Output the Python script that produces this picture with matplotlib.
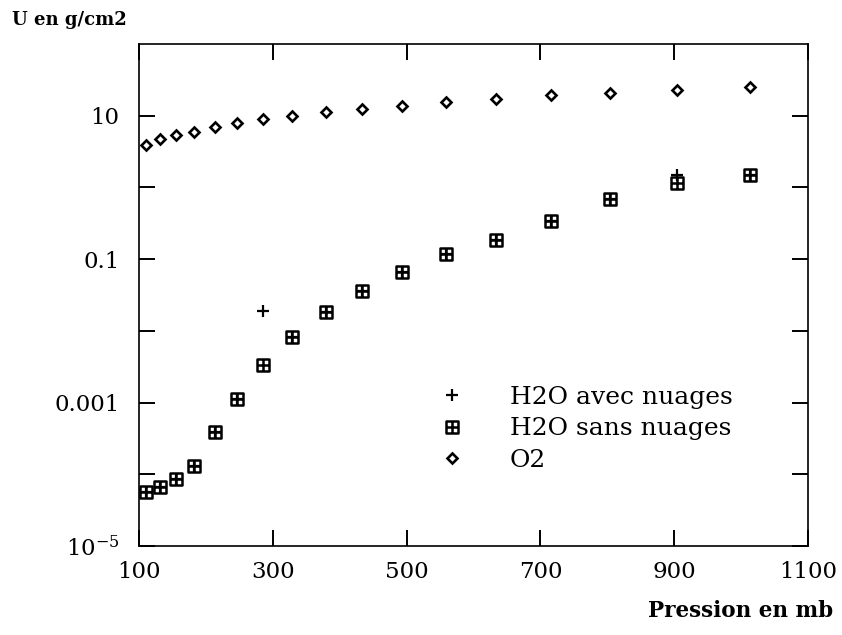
import matplotlib
matplotlib.use("Agg")
import matplotlib.pyplot as plt
from matplotlib.path import Path

# Données
pression = [110, 131, 156, 182, 213, 247, 286, 329, 379, 433, 493, 559, 633, 716, 804, 904, 1013]
u_o2 = [3.9, 4.7, 5.4, 6.0, 7.0, 7.9, 9.0, 9.9, 11.3, 12.4, 13.6, 15.4, 16.9, 19.3, 20.8, 22.9, 25.1]
u_h2o_sans = [5.6e-5, 6.7e-5, 8.6e-5, 1.30e-4, 3.85e-4, 1.11e-3, 3.34e-3, 8.3e-3, 0.0183,
              0.0363, 0.0655, 0.118, 0.183, 0.34, 0.68, 1.14, 1.51]
u_h2o_avec = [5.6e-5, 6.7e-5, 8.6e-5, 1.30e-4, 3.85e-4, 1.11e-3, 0.0189, 8.3e-3, 0.0183,
              0.0363, 0.0655, 0.118, 0.183, 0.34, 0.68, 1.50, 1.51]

xticks = [100, 300, 500, 700, 900, 1100]
yticks = [1e-5, 1e-4, 1e-3, 1e-2, 1e-1, 1, 10]
ylabels = ["10$^{-5}$", "", "0.001", "", "0.1", "", "10"]

plt.rcParams["font.family"] = "DejaVu Serif"
plt.rcParams["mathtext.fontset"] = "dejavuserif"

# carré avec une croix dedans
carre_croix = Path(
    [(-1, -1), (1, -1), (1, 1), (-1, 1), (-1, -1), (-1, 0), (1, 0), (0, -1), (0, 1)],
    [Path.MOVETO, Path.LINETO, Path.LINETO, Path.LINETO, Path.CLOSEPOLY,
     Path.MOVETO, Path.LINETO, Path.MOVETO, Path.LINETO])

fig = plt.figure(figsize=(8.42, 6.35), dpi=100)
ax = fig.add_axes([139 / 842, 1 - 546 / 635, 669 / 842, 502 / 635])

ax.plot(pression, u_h2o_avec, linestyle="none", marker="+", ms=8, mew=1.6,
        color="black", label="H2O avec nuages")
ax.plot(pression, u_h2o_sans, linestyle="none", marker=carre_croix, ms=8.4, mew=1.8,
        mfc="none", color="black", label="H2O sans nuages")
ax.plot(pression, u_o2, linestyle="none", marker="D", ms=5, mew=1.9,
        mfc="none", color="black", label="O2")

ax.set_yscale("log")
ax.set_xlim(100, 1100)
ax.set_ylim(1e-5, 100)
ax.set_xticks(xticks)
ax.set_xticklabels([str(v) for v in xticks])
ax.set_yticks(yticks)
ax.set_yticklabels(ylabels)
ax.minorticks_off()
ax.tick_params(direction="in", length=11.5, width=1.4, top=True, right=True,
               labelsize=16.5)
ax.tick_params(axis="y", pad=14)
ax.tick_params(axis="x", pad=11)
for s in ax.spines.values():
    s.set_linewidth(1.2)

ax.legend(loc="upper left", bbox_to_anchor=(427 / 842, 1 - 386 / 635),
          bbox_transform=fig.transFigure, frameon=False, fontsize=18,
          handlelength=2, handletextpad=1.32, borderpad=0, borderaxespad=0,
          labelspacing=0.34)

fig.text(12 / 842, 1 - 20 / 635, "U en g/cm2", fontsize=13, fontweight="bold",
         ha="left", va="center")
fig.text(833 / 842, 1 - 611 / 635, "Pression en mb", fontsize=15.5, fontweight="bold",
         ha="right", va="center")

fig.savefig("out.png", dpi=100)
